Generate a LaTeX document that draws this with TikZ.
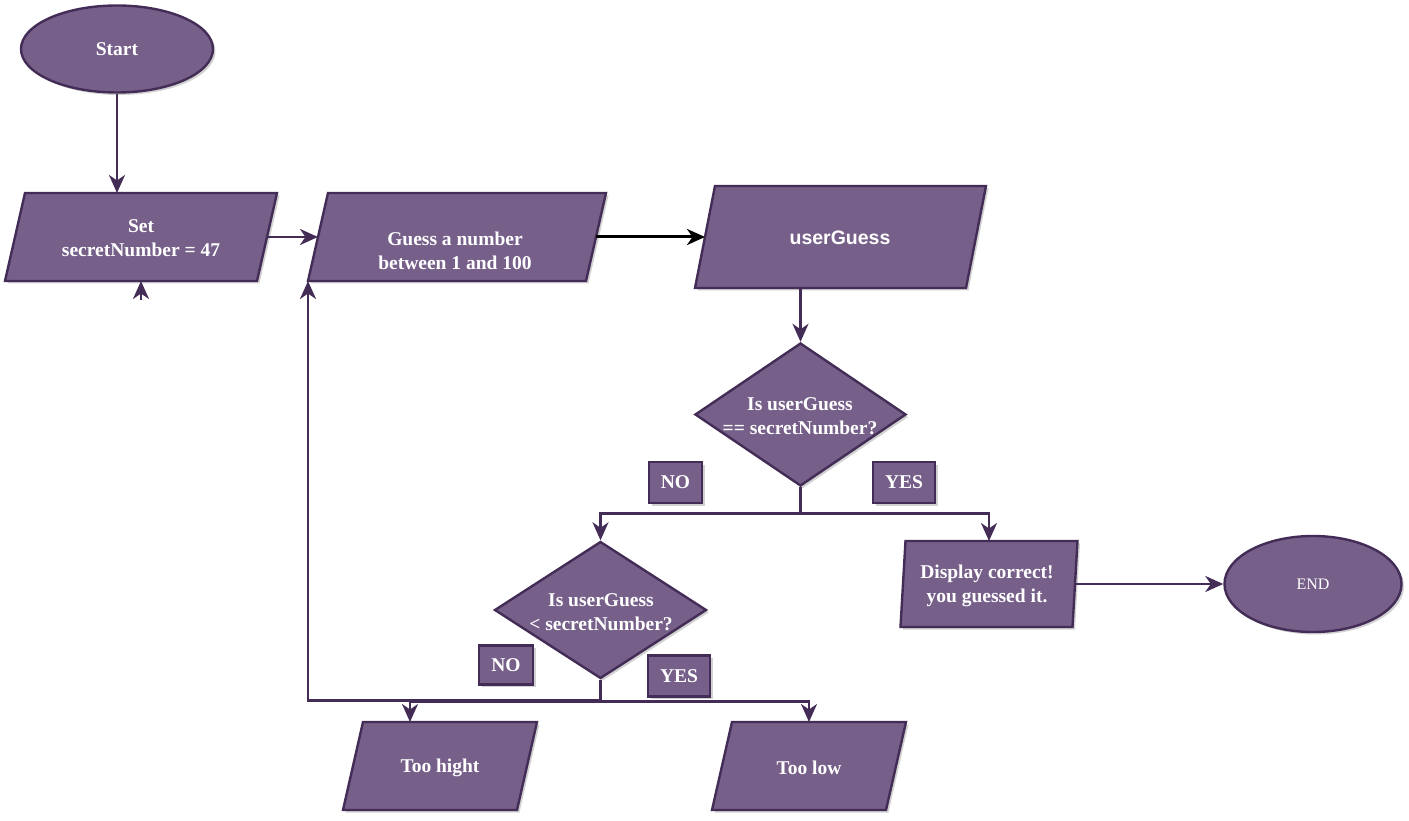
\documentclass[tikz,border=0pt]{standalone}
\usepackage{fontspec}
\setmainfont{Liberation Serif}
\newfontfamily\sansf{Liberation Sans}
\usetikzlibrary{shapes.geometric,arrows.meta,shadows}

\definecolor{boxfill}{HTML}{76608A}
\definecolor{boxline}{HTML}{432D57}

\tikzset{
  softshadow/.style={drop shadow={shadow xshift=2.5pt,shadow yshift=-2.5pt,opacity=0.18,fill=black}},
  shapebox/.style={fill=boxfill,draw=boxline,line width=2.4pt,softshadow},
  anchorbox/.style={rectangle,inner sep=0pt,outer sep=0pt},
  txt/.style={text=white,align=center,font=\bfseries\fontsize{19.5}{23.5}\selectfont,inner sep=0pt},
  terminal/.style={shapebox,ellipse,inner sep=0pt,text=white},
  decision/.style={shapebox,diamond,inner sep=0pt},
  tag/.style={shapebox,rectangle,inner sep=0pt,text=white,font=\bfseries\fontsize{19.5}{23.5}\selectfont},
  flow/.style={draw=boxline,line width=2.6pt,-{Stealth[length=18pt,width=16pt,inset=5.5pt]}},
}

% parallelogram (input/output box): name, centre x, centre y, mid width, height, slant
\newcommand\iobox[6]{%
  \path[shapebox] ({#2-#4/2+#6/2},{#3-#5/2}) -- ({#2+#4/2+#6/2},{#3-#5/2})
    -- ({#2+#4/2-#6/2},{#3+#5/2}) -- ({#2-#4/2-#6/2},{#3+#5/2}) -- cycle;
  \node[anchorbox,minimum width=#4pt,minimum height=#5pt] (#1) at (#2,#3) {};}

\begin{document}
\begin{tikzpicture}[x=1pt,y=-1pt]
\useasboundingbox (0,0) rectangle (1409,821);

% terminals
\node[terminal,minimum width=192pt,minimum height=87pt,
      font=\bfseries\fontsize{19.5}{23.5}\selectfont] (start) at (117,49) {Start};
\node[terminal,minimum width=177pt,minimum height=96pt,
      font=\fontsize{16}{19}\selectfont] (end) at (1313,584) {END};

% input / output boxes
\iobox{set}{141}{237}{252}{88}{20}
\iobox{guess}{457}{237}{278}{88}{20}
\iobox{ug}{840.5}{237}{271}{102}{20}
\iobox{disp}{989}{584}{172}{86}{5}
\iobox{th}{440}{766}{174}{88}{20}
\iobox{tl}{809}{766}{174}{88}{20}

% decisions
\node[decision,minimum width=211pt,minimum height=143pt] (d1) at (800.5,414.5) {};
\node[decision,minimum width=212pt,minimum height=137pt] (d2) at (600.5,610) {};

% texts
\node[txt] (set-t) at (141,238) {Set\\secretNumber = 47};
\node[txt] (guess-t) at (455,251) {Guess a number\\between 1 and 100};
\node[txt,font=\sansf\bfseries\fontsize{19.5}{23.5}\selectfont] (ug-t) at (840,238) {userGuess};
\node[txt] (d1-t) at (800,416) {Is userGuess\\== secretNumber?};
\node[txt] (d2-t) at (601,612) {Is userGuess\\< secretNumber?};
\node[txt] (disp-t) at (987,586) {Display correct!\\you guessed it.};
\node[txt] (th-t) at (440,768) {Too hight};
\node[txt] (tl-t) at (809,768) {Too low};

% branch labels
\node[tag,minimum width=53pt,minimum height=41pt] (no1) at (675.5,482.5) {NO};
\node[tag,minimum width=62pt,minimum height=41pt] (yes1) at (904,482.5) {YES};
\node[tag,minimum width=54pt,minimum height=39pt] (no2) at (506,665) {NO};
\node[tag,minimum width=62pt,minimum height=41pt] (yes2) at (679,676) {YES};

% connectors
\coordinate (loose) at (141,300);
\draw[flow] (start.south) -- (start.south |- set.north);
\draw[flow] (loose) -- (set.south);
\draw[flow] (set.east) -- (guess.west);
\draw[flow,draw=black,line width=3pt] (guess.east) -- (ug.west);
\draw[flow] (ug.south -| d1.north) -- (d1.north);
\draw[flow] (d1.south) -- ++(0,26) -| (d2.north);
\draw[flow] (d1.south) -- ++(0,26) -| (disp.north);
\draw[flow] (d2.south) -- ++(0,21) -| ([xshift=-10pt]guess.south west);
\draw[flow] (d2.south) -- ++(0,22) -| ([xshift=-30pt]th.north);
\draw[flow] (d2.south) -- ++(0,22) -| (tl.north);
\draw[flow] (disp.east) -- (end.west);
\end{tikzpicture}
\end{document}
